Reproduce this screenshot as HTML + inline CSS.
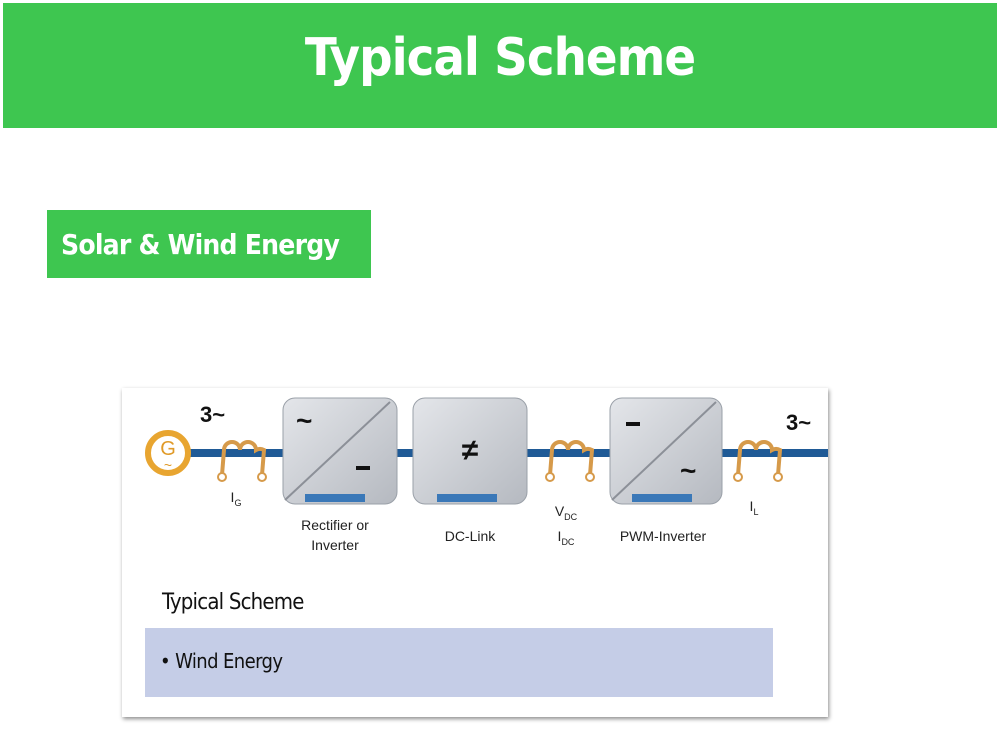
<!DOCTYPE html>
<html><head><meta charset="utf-8"><style>
body{margin:0;width:1000px;height:732px;background:#fff;position:relative;overflow:hidden;font-family:"Liberation Sans",sans-serif}
.a{position:absolute}
</style></head><body>
<div class="a" style="left:3px;top:3px;width:994px;height:125px;background:#3ec650"></div>
<div class="a" style="left:0;top:28px;width:1000px;text-align:center;color:#fff;font-size:52px;font-weight:bold;letter-spacing:-1px;font-family:'DejaVu Sans Condensed','Liberation Sans Narrow',sans-serif">Typical Scheme</div>
<div class="a" style="left:47px;top:210px;width:324px;height:68px;background:#3ec650"></div>
<div class="a" style="left:61px;top:228px;color:#fff;font-size:28px;font-weight:bold;font-family:'DejaVu Sans Condensed',sans-serif;letter-spacing:-0.8px">Solar &amp; Wind Energy</div>
<div class="a" style="left:122px;top:388px;width:706px;height:329px;background:#fff;box-shadow:1px 2px 4px rgba(0,0,0,.45)"></div>
<svg class="a" style="left:0;top:0" width="1000" height="732">
<defs><linearGradient id="g" x1="0" y1="0" x2="1" y2="1"><stop offset="0" stop-color="#e4e6ea"/><stop offset="1" stop-color="#b5b9c0"/></linearGradient></defs>
<rect x="180" y="449" width="648" height="8" fill="#1f5a96"/>
<circle cx="168" cy="453" r="20" fill="#fff" stroke="#e8a530" stroke-width="6"/>
<text x="168" y="455" font-size="20" text-anchor="middle" fill="#e09a28">G</text>
<text x="168" y="470" font-size="14" text-anchor="middle" fill="#e09a28">~</text>
<g fill="none" stroke="#d69a4a" stroke-width="4">
<path d="M222 475 L224 450 a8 8 0 0 1 16 0 a8 8 0 0 1 16 0 a8 8 0 0 1 8 0 L262 475"/>
<path d="M550 475 L552 450 a8 8 0 0 1 16 0 a8 8 0 0 1 16 0 a8 8 0 0 1 8 0 L590 475"/>
<path d="M738 475 L740 450 a8 8 0 0 1 16 0 a8 8 0 0 1 16 0 a8 8 0 0 1 8 0 L778 475"/>
</g>
<g fill="#fff" stroke="#d69a4a" stroke-width="2"><circle cx="222" cy="477" r="4"/><circle cx="262" cy="477" r="4"/><circle cx="550" cy="477" r="4"/><circle cx="590" cy="477" r="4"/><circle cx="738" cy="477" r="4"/><circle cx="778" cy="477" r="4"/></g>
<g>
<rect x="283" y="398" width="114" height="106" rx="12" fill="url(#g)" stroke="#9aa0a8"/>
<line x1="285" y1="500" x2="390" y2="402" stroke="#8c9098" stroke-width="2"/>
<rect x="305" y="494" width="60" height="8" fill="#3a78b8"/>
<rect x="413" y="398" width="114" height="106" rx="12" fill="url(#g)" stroke="#9aa0a8"/>
<rect x="437" y="494" width="60" height="8" fill="#3a78b8"/>
<rect x="610" y="398" width="112" height="106" rx="12" fill="url(#g)" stroke="#9aa0a8"/>
<line x1="612" y1="500" x2="716" y2="402" stroke="#8c9098" stroke-width="2"/>
<rect x="632" y="494" width="60" height="8" fill="#3a78b8"/>
</g>
<g fill="#111" font-weight="bold">
<text x="296" y="430" font-size="28">~</text>
<rect x="356" y="466" width="14" height="4"/>
<text x="470" y="460" font-size="30" text-anchor="middle">≠</text>
<rect x="626" y="422" width="14" height="4"/>
<text x="680" y="480" font-size="28">~</text>
<text x="200" y="422" font-size="22">3~</text>
<text x="786" y="430" font-size="22">3~</text>
</g>
<g fill="#222" font-size="14" text-anchor="middle">
<text x="335" y="530">Rectifier or</text><text x="335" y="550">Inverter</text>
<text x="470" y="541">DC-Link</text>
<text x="663" y="541">PWM-Inverter</text>
<text x="236" y="502">I<tspan font-size="9" dy="4">G</tspan></text>
<text x="566" y="516">V<tspan font-size="9" dy="4">DC</tspan></text>
<text x="566" y="541">I<tspan font-size="9" dy="4">DC</tspan></text>
<text x="754" y="511">I<tspan font-size="9" dy="4">L</tspan></text>
</g>
</svg>
<div class="a" style="left:162px;top:590px;font-size:22px;color:#111;font-family:'DejaVu Sans Condensed',sans-serif;letter-spacing:-0.8px">Typical Scheme</div>
<div class="a" style="left:145px;top:628px;width:628px;height:69px;background:#c5cde7"></div>
<div class="a" style="left:160px;top:649px;font-size:20px;color:#111;font-family:'DejaVu Sans Condensed',sans-serif;letter-spacing:-0.6px">• Wind Energy</div>
</body></html>
